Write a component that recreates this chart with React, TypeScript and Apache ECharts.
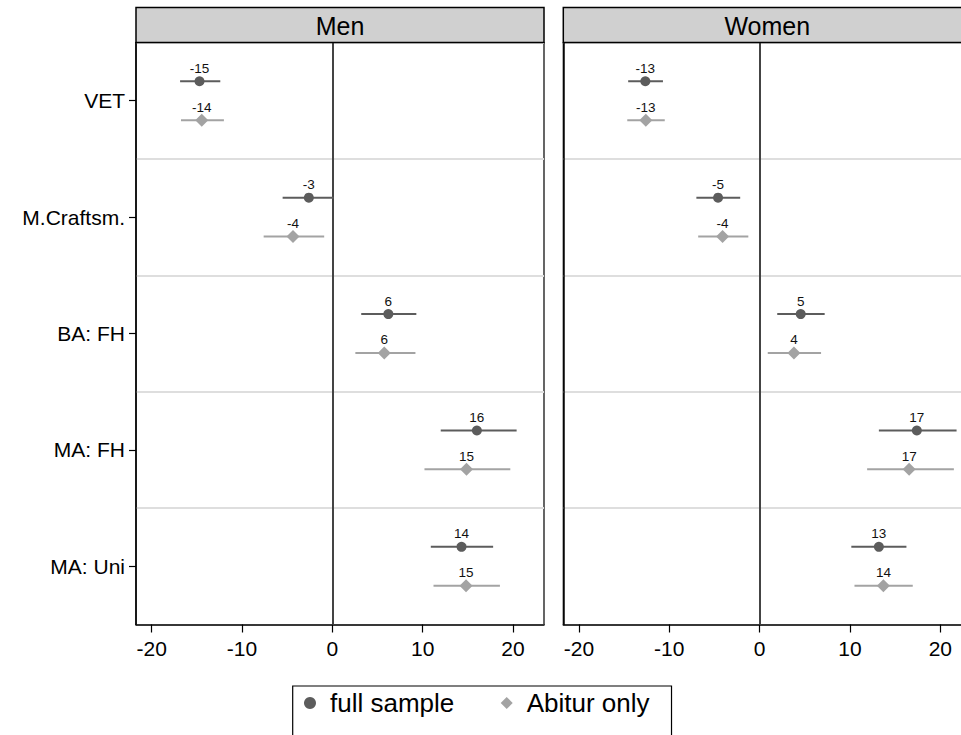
import React, { useEffect, useRef } from "react";
import * as echarts from "echarts";

const CATEGORIES = ["VET", "M.Craftsm.", "BA: FH", "MA: FH", "MA: Uni"];
const PANELS = ["Men", "Women"];
const GROUPS = ["full sample", "Abitur only"];
const X_TICKS = [-20, -10, 0, 10, 20];

// estimates and confidence bounds
const MEN_FULL_EST = [-14.7, -2.6, 6.2, 16.0, 14.3];
const MEN_FULL_LO = [-16.85, -5.5, 3.2, 12.0, 10.9];
const MEN_FULL_HI = [-12.4, 0.15, 9.3, 20.4, 17.8];
const MEN_ABI_EST = [-14.45, -4.35, 5.75, 14.85, 14.8];
const MEN_ABI_LO = [-16.75, -7.6, 2.55, 10.2, 11.2];
const MEN_ABI_HI = [-12.0, -0.9, 9.2, 19.7, 18.55];
const WOMEN_FULL_EST = [-12.65, -4.6, 4.55, 17.4, 13.2];
const WOMEN_FULL_LO = [-14.55, -7.0, 1.95, 13.2, 10.15];
const WOMEN_FULL_HI = [-10.7, -2.15, 7.2, 21.8, 16.25];
const WOMEN_ABI_EST = [-12.6, -4.1, 3.8, 16.55, 13.7];
const WOMEN_ABI_LO = [-14.65, -6.8, 0.9, 11.9, 10.5];
const WOMEN_ABI_HI = [-10.5, -1.25, 6.8, 21.5, 16.95];

const DATA = [
  [
    { est: MEN_FULL_EST, lo: MEN_FULL_LO, hi: MEN_FULL_HI },
    { est: MEN_ABI_EST, lo: MEN_ABI_LO, hi: MEN_ABI_HI },
  ],
  [
    { est: WOMEN_FULL_EST, lo: WOMEN_FULL_LO, hi: WOMEN_FULL_HI },
    { est: WOMEN_ABI_EST, lo: WOMEN_ABI_LO, hi: WOMEN_ABI_HI },
  ],
];

const FONT = "'Liberation Sans', Arial, Helvetica, sans-serif";
const X_MIN = -21.73;
const X_MAX = 23.43;
const GROUP_OFFSET = [-0.167, 0.167];
const COLORS = ["#5c5c5c", "#a3a3a3"];
const SYMBOLS = ["circle", "diamond"];
const SYMBOL_SIZES = [10, 13];

const GRID_TOP = 42.5;
const GRID_H = 582;
const GRID_W = 408;
const GRID_LEFTS = [136, 563.3];
const CHART_W = 990;

export default function App() {
  const ref = useRef<HTMLDivElement>(null);
  useEffect(() => {
    if (!ref.current) return;
    const chart = echarts.init(ref.current, null, { renderer: "svg" });

    const grids = GRID_LEFTS.map((left) => ({
      left,
      top: GRID_TOP,
      width: GRID_W,
      height: GRID_H,
      show: true,
      borderColor: "#000",
      borderWidth: 1.2,
      backgroundColor: "#fff",
      containLabel: false,
    }));

    const xAxes = PANELS.map((_, p) => ({
      type: "value",
      gridIndex: p,
      min: X_MIN,
      max: X_MAX,
      position: "bottom",
      splitLine: { show: false },
      axisLine: { show: true, onZero: false, lineStyle: { color: "#000", width: 1.5 } },
      axisTick: {
        show: true,
        length: 8,
        customValues: X_TICKS,
        lineStyle: { color: "#000", width: 1.2 },
      },
      axisLabel: {
        customValues: X_TICKS,
        margin: 13,
        color: "#000",
        fontSize: 21,
        fontFamily: FONT,
      },
    }));

    const yAxes: any[] = [];
    PANELS.forEach((_, p) => {
      yAxes.push({
        type: "category",
        gridIndex: p,
        data: CATEGORIES,
        inverse: true,
        boundaryGap: true,
        position: "left",
        axisLine: { show: true, onZero: false, lineStyle: { color: "#000", width: 1.5 } },
        axisTick: {
          show: p === 0,
          alignWithLabel: true,
          length: 7,
          lineStyle: { color: "#000", width: 1.2 },
        },
        axisLabel: {
          show: p === 0,
          margin: 11,
          color: "#000",
          fontSize: 21,
          fontFamily: FONT,
        },
        splitLine: {
          show: true,
          interval: 0,
          lineStyle: { color: "#dedede", width: 2 },
        },
      });
      yAxes.push({
        type: "value",
        gridIndex: p,
        min: 0,
        max: CATEGORIES.length,
        inverse: true,
        show: false,
        axisLine: { show: false, onZero: false },
        axisTick: { show: false },
        axisLabel: { show: false },
        splitLine: { show: false },
      });
    });

    const series: any[] = [];
    PANELS.forEach((_, p) => {
      GROUPS.forEach((g, gi) => {
        const d = DATA[p][gi];
        const rows = CATEGORIES.map((_, i) => [
          d.lo[i],
          d.hi[i],
          i + 0.5 + GROUP_OFFSET[gi],
        ]);
        series.push({
          type: "custom",
          name: g,
          xAxisIndex: p,
          yAxisIndex: p * 2 + 1,
          z: 3,
          data: rows,
          encode: { x: [0, 1], y: 2 },
          renderItem: (params: any, api: any) => {
            const a = api.coord([api.value(0), api.value(2)]);
            const b = api.coord([api.value(1), api.value(2)]);
            return {
              type: "line",
              shape: { x1: a[0], y1: a[1], x2: b[0], y2: b[1] },
              style: { stroke: COLORS[gi], lineWidth: 2 },
            };
          },
          itemStyle: { color: COLORS[gi] },
        });
        const s: any = {
          type: "scatter",
          name: g,
          xAxisIndex: p,
          yAxisIndex: p * 2 + 1,
          z: 4,
          symbol: SYMBOLS[gi],
          symbolSize: SYMBOL_SIZES[gi],
          itemStyle: { color: COLORS[gi], opacity: 1 },
          data: CATEGORIES.map((_, i) => [d.est[i], i + 0.5 + GROUP_OFFSET[gi]]),
          label: {
            show: true,
            position: "inside",
            offset: [0, -13],
            formatter: (pr: any) => String(Math.round(pr.value[0])),
            color: "#111",
            fontSize: 13.5,
            fontFamily: FONT,
          },
          emphasis: { disabled: true },
        };
        if (gi === 0) {
          s.markLine = {
            silent: true,
            symbol: ["none", "none"],
            label: { show: false },
            lineStyle: { color: "#444", width: 2, type: "solid" },
            data: [{ xAxis: 0 }],
            z: 2,
          };
        }
        series.push(s);
      });
    });

    const graphic: any[] = [];
    PANELS.forEach((name, p) => {
      graphic.push({
        type: "rect",
        shape: { x: GRID_LEFTS[p], y: 7.5, width: GRID_W, height: GRID_TOP - 7.5 },
        style: { fill: "#d0d0d0", stroke: "#000", lineWidth: 1.5 },
        z: 10,
      });
      graphic.push({
        type: "text",
        x: GRID_LEFTS[p] + GRID_W / 2,
        y: (7.5 + GRID_TOP) / 2 + 1,
        style: {
          text: name,
          fill: "#000",
          font: `25px ${FONT}`,
          textAlign: "center",
          textVerticalAlign: "middle",
        },
        z: 11,
      });
    });

    chart.setOption({
      animation: false,
      backgroundColor: "#fff",
      textStyle: { fontFamily: FONT },
      grid: grids,
      xAxis: xAxes,
      yAxis: yAxes,
      series,
      graphic,
      legend: {
        show: true,
        left: 292.7,
        top: 686,
        orient: "horizontal",
        padding: [4, 22, 40, 11.3],
        itemWidth: 12,
        itemHeight: 12,
        itemGap: 46.4,
        borderColor: "#000",
        borderWidth: 1.2,
        backgroundColor: "#fff",
        textStyle: {
          fontSize: 26,
          color: "#000",
          fontFamily: FONT,
          padding: [0, 0, 0, 9],
        },
        data: [
          { name: GROUPS[0], icon: "circle", itemStyle: { color: COLORS[0] } },
          { name: GROUPS[1], icon: "diamond", itemStyle: { color: COLORS[1] } },
        ],
        selectedMode: false,
      },
    });
    return () => chart.dispose();
  }, []);
  return (
    <div
      style={{
        position: "absolute",
        left: 0,
        top: 0,
        width: 961,
        height: 735,
        overflow: "hidden",
      }}
    >
      <div ref={ref} style={{ width: CHART_W, height: 735 }} />
    </div>
  );
}
